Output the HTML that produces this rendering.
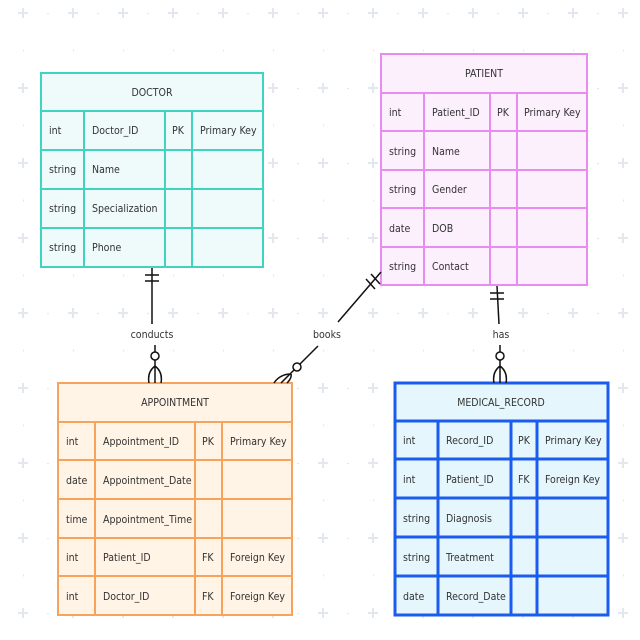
<!DOCTYPE html>
<html><head><meta charset="utf-8"><style>
html,body{margin:0;padding:0;background:#fff}
svg{display:block}
text{font-family:"Liberation Sans Narrow","DejaVu Sans Condensed","Liberation Sans",sans-serif;font-size:10.5px;fill:#333}
</style></head><body>
<svg width="640" height="640" viewBox="0 0 640 640" xmlns="http://www.w3.org/2000/svg">
<defs>
<pattern id="g" x="23" y="13" width="50" height="75" patternUnits="userSpaceOnUse">
<path d="M-5 0H5M0 -5V5M45 75H55M50 70V80M-5 75H5M0 70V80M45 0H55M50 -5V5" stroke="#e3e8ef" stroke-width="2"/>
<circle cx="25" cy="0" r="1.2" fill="#e3e8ef"/>
<circle cx="0" cy="37.5" r="1.2" fill="#e3e8ef"/>
</pattern>
</defs>
<rect width="640" height="640" fill="url(#g)"/>

<!-- DOCTOR -->
<g stroke="#3fd3c0" stroke-width="2" fill="#effbfb">
<rect x="41" y="73" width="222" height="194"/>
<path d="M41 111H263M41 150H263M41 189H263M41 228H263M84 111V267M165 111V267M192 111V267" fill="none"/>
</g>
<text x="152" y="96" text-anchor="middle">DOCTOR</text>
<text x="49" y="134">int</text><text x="92" y="134">Doctor_ID</text><text x="172" y="134">PK</text><text x="200" y="134">Primary Key</text>
<text x="49" y="173">string</text><text x="92" y="173">Name</text>
<text x="49" y="212">string</text><text x="92" y="212">Specialization</text>
<text x="49" y="251">string</text><text x="92" y="251">Phone</text>

<!-- PATIENT -->
<g stroke="#e98cf2" stroke-width="2" fill="#fdf0fd">
<rect x="381" y="54" width="206" height="231"/>
<path d="M381 93H587M381 131H587M381 170H587M381 208H587M381 247H587M424 93V285M490 93V285M517 93V285" fill="none"/>
</g>
<text x="484" y="77" text-anchor="middle">PATIENT</text>
<text x="389" y="116">int</text><text x="432" y="116">Patient_ID</text><text x="497" y="116">PK</text><text x="524" y="116">Primary Key</text>
<text x="389" y="155">string</text><text x="432" y="155">Name</text>
<text x="389" y="193">string</text><text x="432" y="193">Gender</text>
<text x="389" y="232">date</text><text x="432" y="232">DOB</text>
<text x="389" y="270">string</text><text x="432" y="270">Contact</text>

<!-- APPOINTMENT -->
<g stroke="#f7a35c" stroke-width="2" fill="#fff4e6">
<rect x="58" y="383" width="234" height="232"/>
<path d="M58 422H292M58 460H292M58 499H292M58 538H292M58 576H292M95 422V615M195 422V615M222 422V615" fill="none"/>
</g>
<text x="175" y="406" text-anchor="middle">APPOINTMENT</text>
<text x="66" y="445">int</text><text x="103" y="445">Appointment_ID</text><text x="202" y="445">PK</text><text x="230" y="445">Primary Key</text>
<text x="66" y="484">date</text><text x="103" y="484">Appointment_Date</text>
<text x="66" y="523">time</text><text x="103" y="523">Appointment_Time</text>
<text x="66" y="561">int</text><text x="103" y="561">Patient_ID</text><text x="202" y="561">FK</text><text x="230" y="561">Foreign Key</text>
<text x="66" y="600">int</text><text x="103" y="600">Doctor_ID</text><text x="202" y="600">FK</text><text x="230" y="600">Foreign Key</text>

<!-- MEDICAL_RECORD -->
<g stroke="#1a5cf0" stroke-width="3" fill="#e6f6fd">
<rect x="395" y="383" width="213" height="232"/>
<path d="M395 421H608M395 459H608M395 498H608M395 537H608M395 576H608M438 421V615M511 421V615M537 421V615" fill="none"/>
</g>
<text x="501" y="406" text-anchor="middle">MEDICAL_RECORD</text>
<text x="403" y="444">int</text><text x="446" y="444">Record_ID</text><text x="518" y="444">PK</text><text x="545" y="444">Primary Key</text>
<text x="403" y="483">int</text><text x="446" y="483">Patient_ID</text><text x="518" y="483">FK</text><text x="545" y="483">Foreign Key</text>
<text x="403" y="522">string</text><text x="446" y="522">Diagnosis</text>
<text x="403" y="561">string</text><text x="446" y="561">Treatment</text>
<text x="403" y="600">date</text><text x="446" y="600">Record_Date</text>

<!-- connectors -->
<g stroke="#111" stroke-width="1.5" fill="none">
<path d="M152 268V324M145 275H159M145 281H159"/>
<path d="M155 345V352"/>
<circle cx="155" cy="356" r="4" fill="#fff"/>
<path d="M155 360V383M155 366Q147 372 149 383M155 366Q163 372 161 383"/>

<path d="M381 272L338 322M371 274L380 284M366 279L375 289"/>
<path d="M318 346L300 364"/>
<circle cx="297" cy="367" r="4" fill="#fff"/>
<path d="M294 370L281 383M291 374Q280 374 274 383M291 374Q292 378 287 383"/>

<path d="M497 286L499 324M490 293H504M490 299H504"/>
<path d="M500 345V352"/>
<circle cx="500" cy="356" r="4" fill="#fff"/>
<path d="M500 360V383M500 366Q492 372 494 383M500 366Q508 372 506 383"/>
</g>
<text x="152" y="338" text-anchor="middle">conducts</text>
<text x="327" y="338" text-anchor="middle">books</text>
<text x="501" y="338" text-anchor="middle">has</text>
</svg>
</body></html>
